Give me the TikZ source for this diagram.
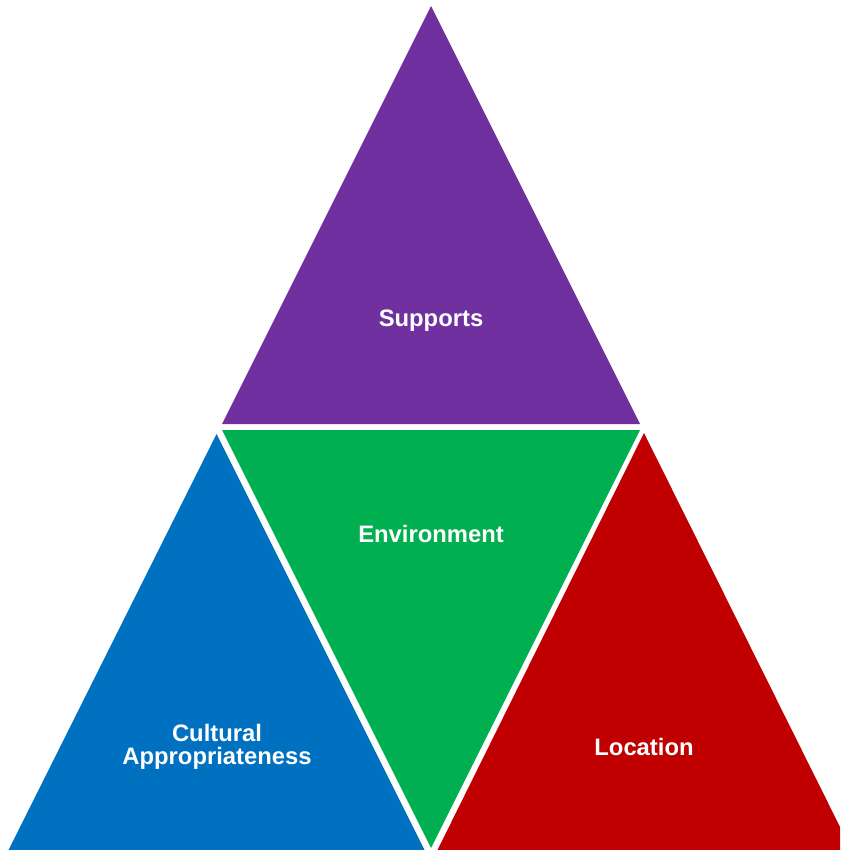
\documentclass[tikz,border=0pt]{standalone}
\usepackage{fontspec}
\setmainfont{Liberation Sans}
\definecolor{cpurple}{HTML}{7030A0}
\definecolor{cgreen}{HTML}{00B050}
\definecolor{cblue}{HTML}{0070C0}
\definecolor{cred}{HTML}{C00000}
\begin{document}
\begin{tikzpicture}[x=1pt,y=-1pt,
  lbl/.style={text=white,font=\fontsize{23.8}{23.5}\selectfont\bfseries,align=center,inner sep=0pt}]
\useasboundingbox (0,0) rectangle (840,850);
\fill[white] (0,0) rectangle (840,850);
\begin{scope}
\clip (0,0) rectangle (840,850);
\fill[cpurple] (431,6) -- (222,424) -- (640,424) -- cycle;
\fill[cgreen] (222,430) -- (640,430) -- (431,848) -- cycle;
\fill[cblue] (216.5,434) -- (8,851) -- (425,851) -- cycle;
\fill[cred] (644,433) -- (437,851) -- (852,851) -- cycle;
\end{scope}
\node[lbl] (supports) at (431,321) {Supports};
\node[lbl] (environment) at (431,534) {Environment};
\node[lbl] (cultural) at (217,747) {Cultural\\Appropriateness};
\node[lbl] (location) at (644,747) {Location};
\end{tikzpicture}
\end{document}
